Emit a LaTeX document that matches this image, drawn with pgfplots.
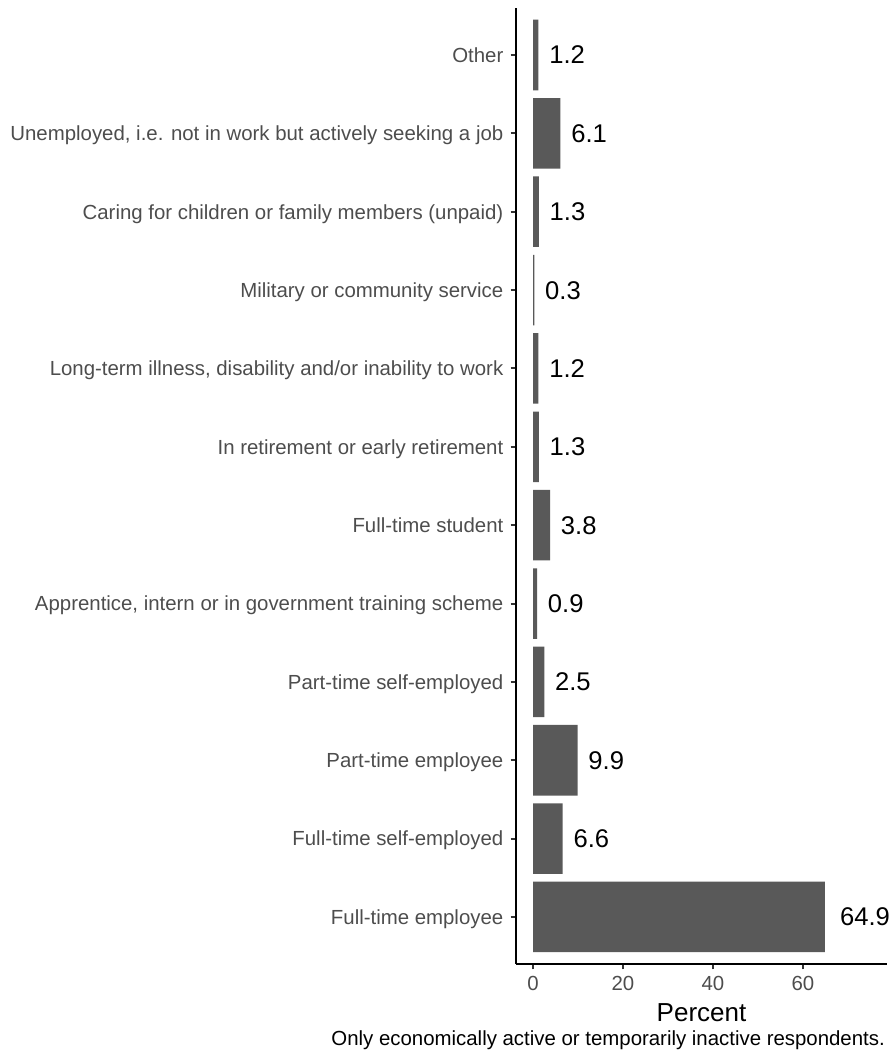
\documentclass[border=0pt]{standalone}
\usepackage{pgfplots}
\pgfplotsset{compat=1.18}
\usepackage{fontspec}
\setmainfont{Liberation Sans}
\definecolor{barg}{HTML}{595959}
\definecolor{gray30}{HTML}{4D4D4D}
\definecolor{gray20}{HTML}{333333}
\newcommand{\ticksize}{\fontsize{20.4}{24}\selectfont}
\newcommand{\valsize}{\fontsize{25.6}{30}\selectfont}

\begin{document}
\begin{tikzpicture}
\useasboundingbox (0,0) rectangle (891pt,1059pt);
\begin{axis}[
    at={(516pt,95pt)}, anchor=south west,
    scale only axis,
    width=371pt, height=956pt,
    xbar, bar shift=0pt, bar width=0.9,
    xmin=-3.78, xmax=78.7,
    ymin=0.4, ymax=12.6,
    axis x line*=bottom, axis y line*=left,
    axis line style={black, line width=2pt},
    tick align=outside,
    major tick length=5.5pt,
    tick style={gray20, line width=2pt},
    xtick={0,20,40,60},
    ytick={1,...,12},
    yticklabels={Full-time employee, Full-time self-employed, Part-time employee,
      Part-time self-employed, Apprentice{,} intern or in government training scheme,
      Full-time student, In retirement or early retirement,
      Long-term illness{,} disability and/or inability to work,
      Military or community service, Caring for children or family members (unpaid),
      {Unemployed, i.e. not in work but actively seeking a job}, Other},
    /pgf/number format/assume math mode=true,
    ticklabel style={font=\ticksize, text=gray30},
    yticklabel style={anchor=east, inner xsep=0pt, text height=14.6pt, text depth=0pt, xshift=-7pt},
    xticklabel style={anchor=north, inner ysep=0pt, yshift=-7pt},
    xlabel={Percent},
    xlabel style={font=\fontsize{26}{30}\selectfont, anchor=base,
      at={(axis description cs:0.5,0)}, yshift=-58pt},
    clip=false,
    nodes near coords={\setbox0\hbox{\pgfmathprintnumber[fixed,precision=1,fixed zerofill]{\pgfplotspointmeta}}\hspace*{0.3\wd0}\box0},
    every node near coord/.append style={anchor=west, inner xsep=0pt, font=\valsize, text=black, text depth=0pt},
]
\addplot[fill=barg, draw=none] coordinates {
    (64.9,1) (6.6,2) (9.9,3) (2.5,4) (0.9,5) (3.8,6)
    (1.3,7) (1.2,8) (0.3,9) (1.3,10) (6.1,11) (1.2,12)};
\end{axis}
\node[anchor=base east, inner sep=0pt, font=\ticksize] at (885pt,13pt)
  {Only economically active or temporarily inactive respondents.};
\end{tikzpicture}
\end{document}
